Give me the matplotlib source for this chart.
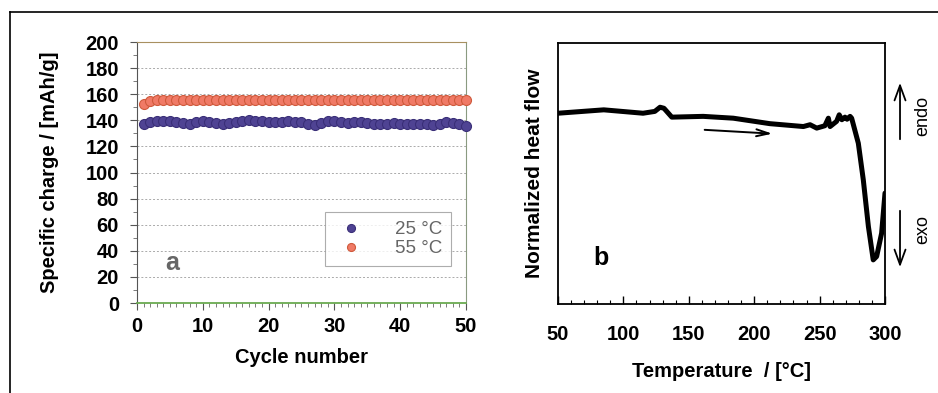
"""Cycling of the cathode (a) and DSC trace (b)"""

import matplotlib

matplotlib.use("Agg")
import matplotlib.pyplot as plt
from matplotlib.lines import Line2D
from matplotlib.patches import FancyArrowPatch
from matplotlib.ticker import MultipleLocator

plt.rcParams["font.family"] = ["Liberation Sans", "DejaVu Sans"]

# panel a: specific charge vs cycle number
cycles = list(range(1, 51))
charge_25 = [
    137.5, 138.5, 139.3, 139.8, 139.5, 139.0, 138.3, 137.5, 138.8, 139.8,
    139.0, 137.8, 137.0, 137.8, 138.5, 139.3, 140.0, 139.8, 139.5, 139.0,
    138.5, 138.8, 139.3, 139.0, 138.5, 137.5, 136.5, 138.0, 139.8, 139.3,
    138.8, 138.3, 138.5, 138.8, 138.0, 137.3, 137.0, 137.5, 137.8, 137.5,
    137.3, 137.0, 137.3, 137.0, 136.8, 137.5, 138.5, 138.0, 137.0, 136.0,
]
charge_55 = [
    152.5, 154.5, 155.3, 155.6, 155.8, 155.8, 155.7, 155.8, 155.9, 155.8,
    155.7, 155.8, 155.6, 155.5, 155.6, 155.7, 155.8, 155.7, 155.6, 155.7,
    155.8, 155.7, 155.6, 155.5, 155.6, 155.7, 155.6, 155.5, 155.6, 155.7,
    155.8, 155.7, 155.6, 155.7, 155.8, 155.7, 155.6, 155.7, 155.8, 155.7,
    155.8, 155.9, 155.8, 155.7, 155.8, 155.9, 155.8, 155.7, 155.8, 155.8,
]
series_labels = ["25 °C", "55 °C"]

# panel b: DSC heat flow (arbitrary units, 0..100)
temperature = [
    50, 85, 115, 124, 128, 131, 137, 161, 184, 212, 237.6, 242.7, 247.8,
    254, 256.7, 258, 263, 265, 267, 269.4, 271, 273.3, 274.5, 279.6, 283.4,
    287.3, 291, 293.6, 297.4, 300,
]
heat_flow = [
    73.1, 74.4, 73.1, 73.8, 75.4, 75.0, 71.6, 71.9, 71.2, 69.1, 68.0, 68.7,
    67.4, 68.3, 71.2, 68.0, 70.0, 72.5, 70.6, 71.6, 70.8, 71.9, 71.2, 61.6,
    47.6, 29.7, 16.9, 18.2, 27.1, 42.5,
]

TICK_FS = 14.5
LABEL_FS = 14.5


def style_panel_a(ax):
    ax.set_xlim(0, 50)
    ax.set_ylim(0, 200)
    ax.xaxis.set_major_locator(MultipleLocator(10))
    ax.xaxis.set_minor_locator(MultipleLocator(1))
    ax.yaxis.set_major_locator(MultipleLocator(20))
    ax.yaxis.set_minor_locator(MultipleLocator(10))
    ax.tick_params(axis="both", which="major", labelsize=TICK_FS, length=5,
                   width=0.8, color="#555555", direction="out")
    ax.tick_params(axis="y", which="major", pad=8)
    ax.tick_params(axis="x", which="major", pad=5)
    ax.tick_params(axis="both", which="minor", length=3, width=0.6,
                   color="#666666", direction="out")
    for lab in ax.get_xticklabels() + ax.get_yticklabels():
        lab.set_fontweight("bold")
    ax.grid(True, axis="y", which="major", color="#aaaaaa",
            linestyle=(0, (2, 2)), linewidth=0.7)
    ax.spines["left"].set_color("#555555")
    ax.spines["bottom"].set_color("#6aaa50")
    ax.spines["bottom"].set_linewidth(1.3)
    ax.spines["top"].set_color("#a89060")
    ax.spines["right"].set_color("#8a9a80")


def main():
    fig = plt.figure(figsize=(9.38, 3.93), dpi=100)

    # ---- panel a
    ax1 = fig.add_axes([0.146, 0.229, 0.3508, 0.664])
    ax1.plot(cycles, charge_25, "o", ms=7.2, mfc="#4f4393", mec="#3a2f78",
             mew=0.8, label=series_labels[0], clip_on=False, zorder=3)
    ax1.plot(cycles, charge_55, "o", ms=7.2, mfc="#f07a66", mec="#cf5a3c",
             mew=0.8, label=series_labels[1], clip_on=False, zorder=3)
    style_panel_a(ax1)
    ax1.set_xlabel("Cycle number", fontsize=LABEL_FS, fontweight="bold",
                   labelpad=9)
    ax1.set_ylabel("Specific charge / [mAh/g]", fontsize=LABEL_FS,
                   fontweight="bold", labelpad=19)
    leg = ax1.legend(loc="lower right", bbox_to_anchor=(0.955, 0.14),
                     frameon=True, fancybox=False, fontsize=13.5,
                     handletextpad=1.4, markerscale=0.8, borderpad=0.5,
                     labelspacing=0.1, handlelength=1.8, borderaxespad=0)
    leg.get_frame().set_edgecolor("#999999")
    leg.get_frame().set_linewidth(0.8)
    for txt in leg.get_texts():
        txt.set_color("#666666")
    ax1.text(5.3, 30.5, "a", fontsize=18, fontweight="bold", color="#666666",
             ha="center", va="center")

    # ---- panel b
    ax2 = fig.add_axes([0.5949, 0.2265, 0.3486, 0.664])
    ax2.plot(temperature, heat_flow, color="black", lw=3.6,
             solid_joinstyle="round", solid_capstyle="round")
    ax2.set_xlim(50, 300)
    ax2.set_ylim(0, 100)
    ax2.xaxis.set_major_locator(MultipleLocator(50))
    ax2.xaxis.set_minor_locator(MultipleLocator(10))
    ax2.set_yticks([])
    ax2.tick_params(axis="x", which="major", labelsize=TICK_FS, length=6,
                    width=1.0, direction="in", pad=15)
    ax2.tick_params(axis="x", which="minor", length=3, width=0.8,
                    direction="in")
    for lab in ax2.get_xticklabels():
        lab.set_fontweight("bold")
    for sp in ax2.spines.values():
        sp.set_linewidth(1.3)
    ax2.set_xlabel("Temperature  / [°C]", fontsize=LABEL_FS,
                   fontweight="bold", labelpad=13)
    ax2.set_ylabel("Normalized heat flow", fontsize=15, fontweight="bold",
                   labelpad=10)
    ax2.annotate("", xy=(216, 65.2), xytext=(160, 66.8),
                 arrowprops=dict(arrowstyle="->,head_length=0.9,head_width=0.25",
                                 lw=1.4, color="black"))
    ax2.text(82.9, 17.6, "b", fontsize=18, fontweight="bold", ha="center",
             va="center")

    # endo / exo markers right of panel b
    for y0, y1 in [(0.6387, 0.7964), (0.4707, 0.3130)]:
        fig.patches.append(FancyArrowPatch(
            (0.9595, y0), (0.9595, y1), transform=fig.transFigure,
            arrowstyle="->,head_length=0.6,head_width=0.22", mutation_scale=18,
            lw=1.3, color="black"))
    fig.text(0.984, 0.705, "endo", rotation=90, fontsize=13, ha="center",
             va="center")
    fig.text(0.984, 0.4148, "exo", rotation=90, fontsize=13, ha="center",
             va="center")

    # page frame (top and left edges)
    fig.lines.append(Line2D([0.0107, 1.0], [0.969, 0.969],
                            transform=fig.transFigure, color="black", lw=1.2))
    fig.lines.append(Line2D([0.0107, 0.0107], [0.0, 0.969],
                            transform=fig.transFigure, color="black", lw=1.2))

    fig.savefig("out.png", dpi=100)
    plt.close(fig)


if __name__ == "__main__":
    main()
